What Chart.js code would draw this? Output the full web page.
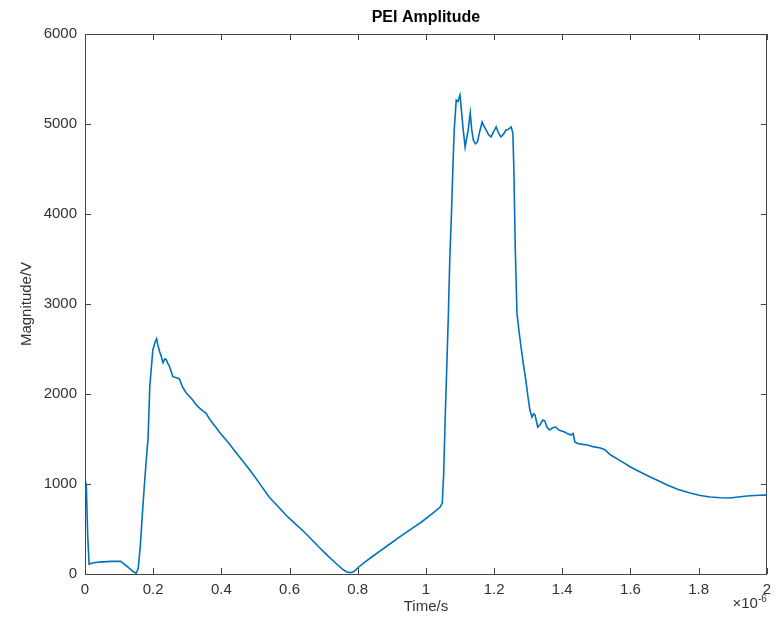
<!DOCTYPE html>
<html>
<head>
<meta charset="utf-8">
<title>PEI Amplitude</title>
<script src="https://cdn.jsdelivr.net/npm/chart.js@4.4.1/dist/chart.umd.min.js"></script>
<style>
  html, body { margin: 0; padding: 0; background: #fff; }
  canvas { display: block; }
</style>
</head>
<body>
<canvas id="peiChart" width="778" height="623"></canvas>
<script>
// time in units of 1e-6 s
const timeValues = [
  0, 0.004, 0.008, 0.012, 0.025, 0.05, 0.08, 0.105, 0.115, 0.128,
  0.14, 0.15, 0.156, 0.162, 0.168, 0.174, 0.18, 0.185, 0.19, 0.199,
  0.206, 0.21, 0.214, 0.219, 0.224, 0.229, 0.234, 0.238, 0.243, 0.248,
  0.258, 0.268, 0.277, 0.286, 0.297, 0.306, 0.316, 0.326, 0.336, 0.345,
  0.355, 0.364, 0.374, 0.384, 0.394, 0.42, 0.444, 0.468, 0.49, 0.515,
  0.54, 0.565, 0.589, 0.613, 0.637, 0.662, 0.686, 0.71, 0.735, 0.755,
  0.768, 0.779, 0.79, 0.803, 0.82, 0.841, 0.865, 0.89, 0.915, 0.94,
  0.965, 0.987, 1.015, 1.042, 1.048, 1.052, 1.057, 1.062, 1.066, 1.07,
  1.075, 1.079, 1.083, 1.089, 1.094, 1.1, 1.104, 1.109, 1.115, 1.12,
  1.124, 1.13, 1.134, 1.139, 1.145, 1.151, 1.158, 1.165, 1.171, 1.177,
  1.184, 1.191, 1.198, 1.206, 1.213, 1.22, 1.228, 1.235, 1.242, 1.25,
  1.255, 1.258, 1.262, 1.267, 1.273, 1.279, 1.286, 1.293, 1.3, 1.305,
  1.311, 1.316, 1.32, 1.328, 1.334, 1.343, 1.349, 1.355, 1.363, 1.372,
  1.381, 1.39, 1.398, 1.407, 1.415, 1.425, 1.432, 1.437, 1.445, 1.46,
  1.474, 1.49, 1.512, 1.525, 1.542, 1.57, 1.6, 1.63, 1.658, 1.685,
  1.708, 1.74, 1.775, 1.805, 1.834, 1.865, 1.892, 1.915, 1.942, 1.965,
  1.991, 2.0
];

// magnitude in V
const magnitudeValues = [
  880, 960, 420, 110, 125, 135, 140, 140, 110, 70,
  30, 8, 60, 300, 650, 980, 1280, 1510, 2080, 2490,
  2580, 2615, 2540, 2470, 2414, 2348, 2390, 2385, 2340, 2303,
  2192, 2180, 2167, 2078, 2011, 1975, 1933, 1880, 1844, 1815,
  1789, 1730, 1678, 1630, 1578, 1460, 1344, 1230, 1122, 990,
  856, 755, 656, 570, 489, 395, 300, 210, 122, 55,
  22, 15, 30, 78, 130, 189, 255, 322, 390, 456,
  520, 578, 660, 744, 790, 1100, 1789, 2400, 2900, 3500,
  4011, 4500, 4933, 5267, 5250, 5322, 5156, 4950, 4744, 4850,
  4933, 5122, 4950, 4822, 4780, 4800, 4920, 5022, 4970, 4933,
  4880, 4856, 4910, 4967, 4900, 4856, 4890, 4933, 4940, 4967,
  4900, 4500, 3633, 2900, 2700, 2522, 2330, 2156, 1950, 1822,
  1744, 1780, 1767, 1633, 1656, 1711, 1700, 1633, 1600, 1625,
  1633, 1600, 1590, 1578, 1560, 1544, 1560, 1467, 1450, 1440,
  1433, 1415, 1400, 1380, 1322, 1260, 1189, 1130, 1078, 1030,
  989, 940, 900, 872, 856, 848, 844, 855, 867, 872,
  878, 875
];

const xTickStep = 0.2;
const yTickStep = 1000;
const xRange = [0, 2];
const yRange = [0, 6000];

const AXIS_COLOR = "#444444";
const TEXT_COLOR = "#333333";
const FONT = "'Liberation Sans', Arial, Helvetica, sans-serif";

const points = timeValues.map((t, i) => ({ x: t, y: magnitudeValues[i] }));

// MATLAB-like inward ticks on all four sides plus the x10^-6 exponent
const boxTicks = {
  id: "boxTicks",
  afterDraw(chart) {
    const { ctx, chartArea: area } = chart;
    const xs = chart.scales.x;
    const ys = chart.scales.y;
    const len = 6;
    ctx.save();
    ctx.strokeStyle = AXIS_COLOR;
    ctx.lineWidth = 1;
    ctx.beginPath();
    xs.ticks.forEach(t => {
      const px = Math.round(xs.getPixelForValue(t.value)) + 0.5;
      ctx.moveTo(px, area.bottom);
      ctx.lineTo(px, area.bottom - len);
      ctx.moveTo(px, area.top);
      ctx.lineTo(px, area.top + len);
    });
    ys.ticks.forEach(t => {
      const py = Math.round(ys.getPixelForValue(t.value)) + 0.5;
      ctx.moveTo(area.left, py);
      ctx.lineTo(area.left + len, py);
      ctx.moveTo(area.right, py);
      ctx.lineTo(area.right - len, py);
    });
    ctx.stroke();

    ctx.fillStyle = TEXT_COLOR;
    ctx.textBaseline = "alphabetic";
    ctx.textAlign = "right";
    ctx.font = "10px " + FONT;
    ctx.fillText("-6", area.right, 602);
    const supW = ctx.measureText("-6").width;
    ctx.font = "15px " + FONT;
    ctx.fillText("\u00d710", area.right - supW, 608);
    ctx.restore();
  }
};

const chart = new Chart(document.getElementById("peiChart"), {
  type: "line",
  data: {
    datasets: [
      {
        label: "PEI Amplitude",
        data: points,
        xAxisID: "x",
        yAxisID: "y",
        borderColor: "#0072BD",
        backgroundColor: "#0072BD",
        borderWidth: 1.6,
        pointRadius: 0,
        tension: 0,
        fill: false
      }
    ]
  },
  plugins: [boxTicks],
  options: {
    responsive: false,
    animation: false,
    devicePixelRatio: 1,
    layout: { padding: 0 },
    plugins: {
      legend: { display: false },
      title: { display: false },
      tooltip: { enabled: false }
    },
    scales: {
      x: {
        type: "linear",
        position: "bottom",
        min: xRange[0],
        max: xRange[1],
        grid: { display: false, drawTicks: false },
        border: { display: true, color: AXIS_COLOR, width: 1 },
        ticks: {
          stepSize: xTickStep,
          color: TEXT_COLOR,
          padding: 7,
          maxRotation: 0,
          font: { family: FONT, size: 15 },
          callback: v => String(Number(v.toFixed(1)))
        },
        title: {
          display: true,
          text: "Time/s",
          color: TEXT_COLOR,
          font: { family: FONT, size: 15 },
          padding: { top: 0, bottom: 7 }
        },
        afterFit: s => { s.height = 49; }
      },
      xTop: {
        type: "linear",
        position: "top",
        min: xRange[0],
        max: xRange[1],
        grid: { display: false, drawTicks: false },
        border: { display: true, color: AXIS_COLOR, width: 1 },
        ticks: { display: false },
        title: {
          display: true,
          text: "PEI Amplitude",
          color: "#000000",
          font: { family: FONT, size: 16, weight: "bold" },
          padding: { top: 8, bottom: 0 }
        },
        afterFit: s => { s.height = 34; }
      },
      y: {
        type: "linear",
        position: "left",
        min: yRange[0],
        max: yRange[1],
        grid: { display: false, drawTicks: false },
        border: { display: true, color: AXIS_COLOR, width: 1 },
        ticks: {
          stepSize: yTickStep,
          color: TEXT_COLOR,
          padding: 8,
          font: { family: FONT, size: 15 },
          callback: v => String(v)
        },
        title: {
          display: true,
          text: "Magnitude/V",
          color: TEXT_COLOR,
          font: { family: FONT, size: 15 },
          padding: { top: 18, bottom: 0 }
        },
        afterFit: s => { s.width = 85; }
      },
      yRight: {
        type: "linear",
        position: "right",
        min: yRange[0],
        max: yRange[1],
        grid: { display: false, drawTicks: false },
        border: { display: true, color: AXIS_COLOR, width: 1 },
        ticks: { display: false },
        afterFit: s => { s.width = 8; }
      }
    }
  }
});
</script>
</body>
</html>
